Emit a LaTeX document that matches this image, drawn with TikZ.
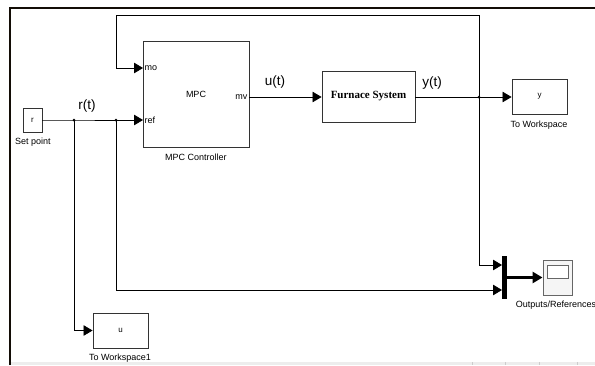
\documentclass[tikz,border=0pt]{standalone}
\usepackage{fontspec}
\setmainfont{Liberation Sans}
\newfontfamily\tnr{Liberation Serif}
\usetikzlibrary{arrows.meta}
\begin{document}
\begin{tikzpicture}[x=1pt,y=-1pt,
  blk/.style={draw=black!80, line width=0.9pt, inner sep=0pt, fill=white, font=\fontsize{8}{9}\selectfont},
  lbl/.style={font=\fontsize{9}{10}\selectfont, inner sep=0pt},
  port/.style={font=\fontsize{9}{10}\selectfont, inner sep=1.5pt},
  sig/.style={font=\fontsize{13.5}{15}\selectfont, inner sep=0pt},
  wire/.style={line width=0.8pt, draw=black},
  arr/.style={wire, -{Triangle[length=9pt,width=10.5pt]}},
  jdot/.style={circle, fill=black, inner sep=0pt, minimum size=3pt},
  frame/.style={line width=2.4pt, draw=black!90!brown}]
\useasboundingbox (0,0) rectangle (595,365);
\fill[white] (0,0) rectangle (595,365);
% bottom window strip
\fill[black!7] (11,362) rectangle (595,365);
\foreach \xx in {472,505,539,577} \draw[black!20, line width=0.6pt] (\xx,362) -- (\xx,365);
% frame
\draw[frame] (10,365) -- (10,8) -- (595,8);

% blocks
\node[blk, minimum width=19pt, minimum height=24pt] (sp) at (32.5,120) {r};
\node[lbl] (splbl) at (33,142) {Set point};
\node[blk, minimum width=106pt, minimum height=106pt, font=\fontsize{9}{10}\selectfont] (mpc) at (196,94) {MPC};
\node[lbl] (mpclbl) at (196,157) {MPC Controller};
\node[port, anchor=west] (mo) at (143,68) {mo};
\node[port, anchor=west] (ref) at (143,120) {ref};
\node[port, anchor=east] (mv) at (249,97) {mv};
\node[blk, minimum width=93pt, minimum height=51pt, font=\tnr\bfseries\fontsize{11}{12}\selectfont] (fur) at (368.5,96.5) {Furnace System};
\node[blk, minimum width=55pt, minimum height=35pt] (ws) at (539.5,96.5) {y};
\node[lbl] (wslbl) at (539,125) {To Workspace};
\node[blk, minimum width=55pt, minimum height=35pt] (ws1) at (120.5,330.5) {u};
\node[lbl] (ws1lbl) at (120,358) {To Workspace1};
\node[fill=black, inner sep=0pt, minimum width=5pt, minimum height=43pt] (mux) at (504.5,277.5) {};
\node[blk, draw=black!60, fill=black!4, minimum width=29pt, minimum height=35pt] (scope) at (557.5,277.5) {};
\node[draw=black!60, line width=0.9pt, fill=white, inner sep=0pt, minimum width=21pt, minimum height=13pt] (screen) at (557.5,271.5) {};
\node[lbl] (scopelbl) at (556,305) {Outputs/References};

% signal labels
\node[sig] (rt) at (87,106) {r(t)};
\node[sig] (ut) at (275,82) {u(t)};
\node[sig] (yt) at (432,83) {y(t)};

% junctions and helper coordinates
\node[jdot] (j1) at (74,120) {};
\node[jdot] (j2) at (116,120) {};
\node[jdot] (j3) at (479,97) {};
\coordinate (topc) at (116,15);
\coordinate (muxin1) at (502,265);
\coordinate (muxin2) at (502,290);

% connectors
\draw[wire] (sp.east) -- (j1.center) -- (j2.center);
\draw[arr] (j2.center) -- (ref.west);
\draw[arr] (mv.east) -- (mv.east -| fur.west);
\draw[wire] (fur.east |- j3) -- (j3.center);
\draw[arr] (j3.center) -- (j3 -| ws.west);
\draw[arr] (j3.center) |- (topc) |- (mo.west);
\draw[arr] (j3.center) |- (muxin1);
\draw[arr] (j2.center) |- (muxin2);
\draw[arr] (j1.center) |- (ws1.west);
\draw[line width=2.6pt, -{Triangle[length=10pt,width=11pt]}] (mux.east) -- (scope.west);
\end{tikzpicture}
\end{document}
